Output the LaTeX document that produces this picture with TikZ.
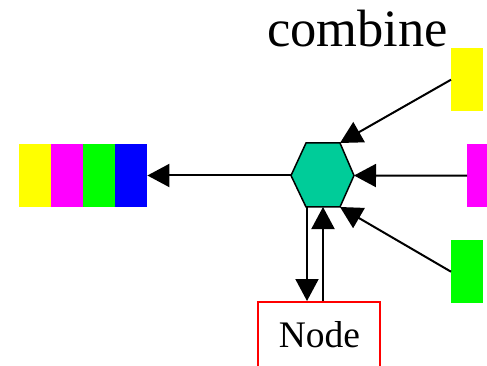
\documentclass[tikz,border=0pt]{standalone}
\usepackage{fontspec}
\setmainfont{Liberation Serif}
\usetikzlibrary{arrows.meta}
\definecolor{hexgreen}{RGB}{0,204,153}
\definecolor{cyel}{RGB}{255,255,0}
\definecolor{cmag}{RGB}{255,0,255}
\definecolor{cgrn}{RGB}{0,255,0}
\definecolor{cblu}{RGB}{0,0,255}
\definecolor{cred}{RGB}{255,0,0}
\begin{document}
\begin{tikzpicture}[x=1pt,y=-1pt,
  cell/.style={draw=none, inner sep=0pt, minimum width=32pt, minimum height=63pt},
  arr/.style={line width=2pt, -{Triangle[length=22pt,width=23pt]}},
  label/.style={inner sep=0pt}]
\useasboundingbox (0,0) rectangle (487,366);

% stacked output record
\node[cell, fill=cyel, anchor=north west] (s1) at (19,144)  {};
\node[cell, fill=cmag, anchor=north west] (s2) at (51,144)  {};
\node[cell, fill=cgrn, anchor=north west] (s3) at (83,144)  {};
\node[cell, fill=cblu, anchor=north west] (s4) at (115,144) {};

% inputs on the right
\node[cell, fill=cyel, anchor=north west] (in1) at (451,48)  {};
\node[cell, fill=cmag, anchor=north west] (in2) at (467,144) {};
\node[cell, fill=cgrn, anchor=north west] (in3) at (451,240) {};

% combine hexagon
\coordinate (hw)  at (291,175.5);
\coordinate (htl) at (306,143);
\coordinate (htr) at (340,143);
\coordinate (he)  at (354,175.5);
\coordinate (hbr) at (340,207);
\coordinate (hbl) at (306,207);
\node[inner sep=0pt] (hex) at (322.5,175.5) {};
\draw[fill=hexgreen, line width=1.5pt, line join=miter]
  (hw) -- (htl) -- (htr) -- (he) -- (hbr) -- (hbl) -- cycle;

\node[label, anchor=base west, font=\fontsize{52.5}{52.5}\selectfont] (title) at (267,47) {combine};

% Node box
\node[draw=cred, line width=1.5pt, inner sep=0pt, minimum width=122pt, minimum height=120pt, anchor=north] (nbox) at (319,301) {};
\node[label, font=\fontsize{37.5}{37.5}\selectfont] (ntext) at (319.5,335) {Node};

% connectors
\draw[arr] (hw) -- (s4.east |- hw);
\draw[arr] (in2.west) -- (he);
\draw[arr] (in1.west) -- (htr);
\draw[arr] (in3.west) -- (hbr);
\coordinate (dtop) at (307,207);
\coordinate (utop) at (323,207);
\draw[arr] (dtop) -- (dtop |- nbox.north);
\draw[arr] (utop |- nbox.north) -- (utop);
\end{tikzpicture}
\end{document}
